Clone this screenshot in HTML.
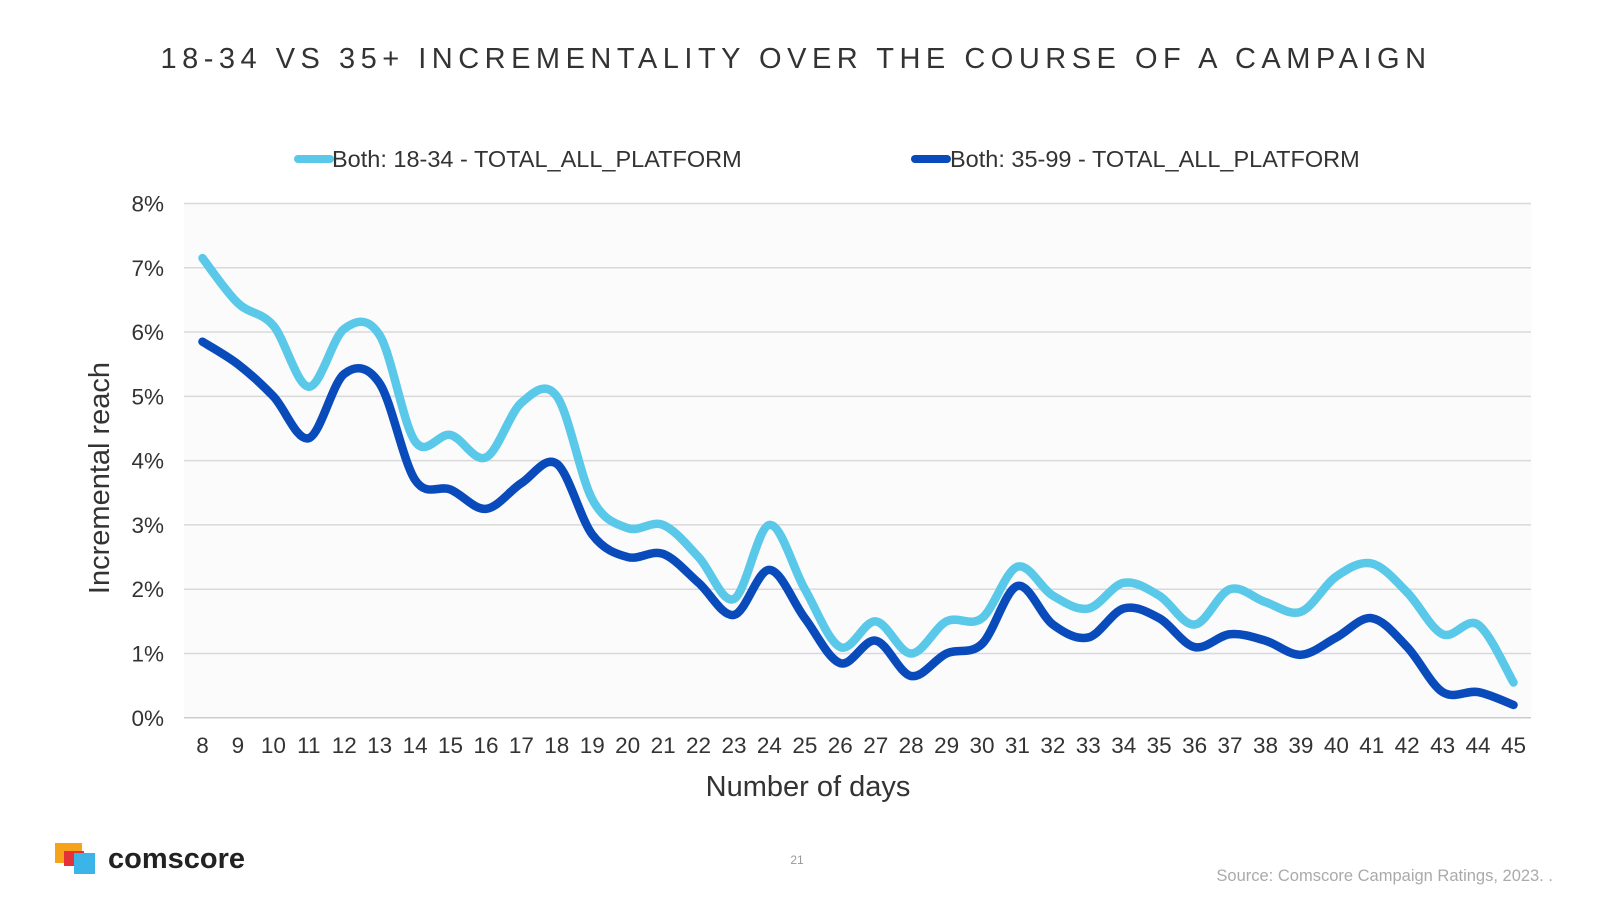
<!DOCTYPE html>
<html><head><meta charset="utf-8"><style>
body{margin:0;width:1600px;height:900px;background:#fff;overflow:hidden;font-family:"Liberation Sans",sans-serif;}
svg{display:block}
</style></head><body>
<svg id="c" width="1600" height="900">
<text x="796" y="68" text-anchor="middle" font-size="29" letter-spacing="5.5" fill="#333">18-34 VS 35+ INCREMENTALITY OVER THE COURSE OF A CAMPAIGN</text>
<g>
<line x1="298" y1="159" x2="330" y2="159" stroke="#5ac8e8" stroke-width="8" stroke-linecap="round"/>
<text x="332" y="167" font-size="23.5" fill="#333">Both: 18-34 - TOTAL_ALL_PLATFORM</text>
<line x1="915" y1="159" x2="947" y2="159" stroke="#0a4bbb" stroke-width="8" stroke-linecap="round"/>
<text x="950" y="167" font-size="23.5" fill="#333">Both: 35-99 - TOTAL_ALL_PLATFORM</text>
</g>
<rect x="184" y="203.5" width="1347" height="514" fill="#fbfbfc"/>
<g id="grid"></g><g id="series"></g><g id="xt"></g>
<text transform="translate(109,478) rotate(-90)" text-anchor="middle" font-size="29" fill="#333">Incremental reach</text>
<text x="808" y="796" text-anchor="middle" font-size="29" fill="#333">Number of days</text>
<g>
<rect x="55" y="843" width="27" height="20" fill="#f7a21b"/>
<rect x="64" y="851" width="20" height="15" fill="#e53238"/>
<rect x="74" y="853" width="21" height="21" fill="#3bb5e8"/>
<text x="108" y="868" font-size="29" font-weight="bold" fill="#222">comscore</text>
</g>
<text x="797" y="864" text-anchor="middle" font-size="12" fill="#999">21</text>
<text x="1553" y="881" text-anchor="end" font-size="16.5" fill="#aaa">Source: Comscore Campaign Ratings, 2023. .</text>
</svg>
<script>
const days=[8,9,10,11,12,13,14,15,16,17,18,19,20,21,22,23,24,25,26,27,28,29,30,31,32,33,34,35,36,37,38,39,40,41,42,43,44,45];
const young=[7.15,6.45,6.1,5.15,6.05,5.95,4.3,4.4,4.05,4.9,5.0,3.4,2.95,3.0,2.5,1.85,3.0,2.0,1.1,1.5,1.0,1.5,1.55,2.35,1.9,1.7,2.1,1.9,1.45,2.0,1.8,1.65,2.2,2.4,1.95,1.3,1.45,0.55];
const older=[5.85,5.5,5.0,4.35,5.35,5.2,3.7,3.55,3.25,3.65,3.95,2.85,2.5,2.55,2.1,1.6,2.3,1.55,0.85,1.2,0.65,1.0,1.15,2.05,1.45,1.25,1.7,1.55,1.1,1.3,1.2,0.98,1.25,1.55,1.1,0.4,0.4,0.2];
const yTicks=[0,1,2,3,4,5,6,7,8];
const NS="http://www.w3.org/2000/svg";
const X=i=>202.5+i*(1311/37), Y=v=>717.8-v*64.29;
const grid=document.getElementById('grid');
yTicks.forEach(t=>{
 const l=document.createElementNS(NS,'line');
 l.setAttribute('x1',184);l.setAttribute('x2',1531);l.setAttribute('y1',Y(t));l.setAttribute('y2',Y(t));
 l.setAttribute('stroke',t==0?'#ccc':'#d9d9d9');l.setAttribute('stroke-width',1.5);
 
 
 grid.appendChild(l);
 const tx=document.createElementNS(NS,'text');
 tx.setAttribute('x',164);tx.setAttribute('y',Y(t)+8);tx.setAttribute('text-anchor','end');
 tx.setAttribute('font-size',22.5);tx.setAttribute('fill','#333');tx.textContent=t+'%';
 
 
 grid.appendChild(tx);
});
const xt=document.getElementById('xt');
days.forEach((d,i)=>{
 const tx=document.createElementNS(NS,'text');
 tx.setAttribute('x',X(i));tx.setAttribute('y',753);tx.setAttribute('text-anchor','middle');
 tx.setAttribute('font-size',22.5);tx.setAttribute('fill','#333');tx.textContent=d;
 
 
 xt.appendChild(tx);
});
function path(vals){
 const p=vals.map((v,i)=>[X(i),Y(v)]);
 let d='M'+p[0][0]+','+p[0][1];
 for(let i=0;i<p.length-1;i++){
  const p0=p[i-1]||p[i],p1=p[i],p2=p[i+1],p3=p[i+2]||p2;
  const c1=[p1[0]+(p2[0]-p0[0])/6,p1[1]+(p2[1]-p0[1])/6];
  const c2=[p2[0]-(p3[0]-p1[0])/6,p2[1]-(p3[1]-p1[1])/6];
  d+=' C'+c1+' '+c2+' '+p2;
 }
 return d;
}
const s=document.getElementById('series');
[[young,'#5ac8e8','line-18-34'],[older,'#0a4bbb','line-35-99']].forEach(([v,c,n])=>{
 const el=document.createElementNS(NS,'path');
 el.setAttribute('d',path(v));el.setAttribute('fill','none');el.setAttribute('stroke',c);
 el.setAttribute('stroke-width',8.5);el.setAttribute('stroke-linecap','round');el.setAttribute('stroke-linejoin','round');
 
 
 s.appendChild(el);
});
</script>
</body></html>
